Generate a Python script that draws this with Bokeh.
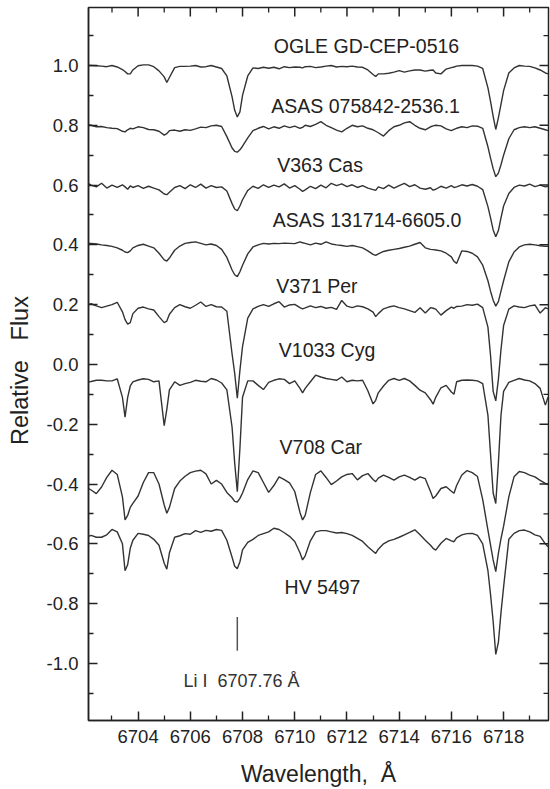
import math
from bokeh.plotting import figure
from bokeh.models import ColumnDataSource, FixedTicker, Range1d, PrintfTickFormatter, Label
from bokeh.embed import file_html
from bokeh.resources import INLINE
from bokeh.core.properties import value

# ---------------- data ----------------
wavelength = [
    6702.1, 6702.2, 6702.4, 6702.6, 6702.8, 6703.0, 6703.2, 6703.4, 6703.5, 6703.6, 6703.7, 6703.8,
    6704.0, 6704.2, 6704.4, 6704.6, 6704.8,
    6705.0, 6705.1, 6705.2, 6705.4, 6705.6, 6705.8,
    6706.0, 6706.2, 6706.4, 6706.6, 6706.8,
    6707.0, 6707.2, 6707.4, 6707.6, 6707.7, 6707.8, 6707.9,
    6708.0, 6708.2, 6708.4, 6708.6, 6708.8,
    6709.0, 6709.2, 6709.4, 6709.6, 6709.8,
    6710.0, 6710.2, 6710.3, 6710.4, 6710.6, 6710.8,
    6711.0, 6711.2, 6711.4, 6711.6, 6711.8,
    6712.0, 6712.2, 6712.4, 6712.6, 6712.8,
    6713.0, 6713.1, 6713.2, 6713.4, 6713.6, 6713.8,
    6714.0, 6714.2, 6714.4, 6714.6, 6714.8,
    6715.0, 6715.2, 6715.3, 6715.4, 6715.6, 6715.8,
    6716.0, 6716.1, 6716.2, 6716.4, 6716.6, 6716.8,
    6717.0, 6717.2, 6717.4, 6717.5, 6717.6, 6717.7, 6717.8, 6717.9,
    6718.0, 6718.2, 6718.4, 6718.6, 6718.8,
    6719.0, 6719.2, 6719.4, 6719.6, 6719.7,
]

flux_ogle_gd_cep_0516 = [
    1.000, 1.000, 0.999, 0.998, 0.996, 1.000, 0.995, 0.986, 0.980, 0.972, 0.972, 0.985,
    0.999, 1.002, 1.002, 0.996, 0.982,
    0.962, 0.943, 0.960, 0.993, 0.997, 0.997,
    0.998, 1.000, 0.995, 0.996, 1.000,
    0.995, 0.990, 0.965, 0.895, 0.850, 0.828, 0.845,
    0.900, 0.965, 0.992, 0.990, 0.994,
    0.991, 0.994, 0.989, 0.996, 0.993,
    0.995, 0.994, 0.992, 0.996, 0.997, 0.993,
    0.995, 0.998, 1.000, 0.995, 0.997,
    0.996, 0.998, 0.995, 0.994, 0.985,
    0.970, 0.963, 0.972, 0.972, 0.974, 0.978,
    0.983, 0.978, 0.982, 0.985, 0.985,
    0.981, 0.984, 0.985, 0.975, 0.972, 0.988,
    0.993, 0.995, 0.998, 1.000, 1.000, 1.000,
    0.998, 0.990, 0.925, 0.880, 0.830, 0.786, 0.825, 0.870,
    0.916, 0.975, 0.992, 1.000, 0.998,
    0.997, 0.992, 0.985, 0.975, 0.972,
]

flux_asas_075842 = [
    0.802, 0.800, 0.795, 0.796, 0.792, 0.790, 0.789, 0.780, 0.778, 0.785, 0.790, 0.788,
    0.795, 0.792, 0.786, 0.785, 0.780,
    0.767, 0.772, 0.782, 0.784, 0.780, 0.785,
    0.783, 0.788, 0.794, 0.792, 0.798,
    0.800, 0.796, 0.762, 0.724, 0.713, 0.710, 0.718,
    0.730, 0.758, 0.782, 0.790, 0.796,
    0.788, 0.795, 0.790, 0.798, 0.792,
    0.797, 0.790, 0.793, 0.800, 0.796, 0.803,
    0.812, 0.800, 0.792, 0.784, 0.778,
    0.790, 0.800, 0.795, 0.798, 0.790,
    0.785, 0.780, 0.775, 0.764, 0.782, 0.795,
    0.800, 0.808, 0.812, 0.800, 0.790,
    0.785, 0.795, 0.798, 0.800, 0.798, 0.788,
    0.782, 0.786, 0.790, 0.795, 0.792, 0.798,
    0.797, 0.790, 0.728, 0.690, 0.655, 0.628, 0.640, 0.668,
    0.700, 0.755, 0.785, 0.792, 0.795,
    0.792, 0.795, 0.790, 0.785, 0.782,
]

flux_v363_cas = [
    0.605, 0.600, 0.594, 0.606, 0.590, 0.600, 0.592, 0.601, 0.594, 0.586, 0.597, 0.592,
    0.598, 0.589, 0.596, 0.590, 0.584,
    0.570, 0.568, 0.576, 0.592, 0.598, 0.588,
    0.601, 0.592, 0.603, 0.590, 0.598,
    0.592, 0.594, 0.580, 0.538, 0.520, 0.514, 0.530,
    0.551, 0.582, 0.596, 0.589, 0.601,
    0.592, 0.600, 0.594, 0.604, 0.590,
    0.598, 0.586, 0.579, 0.584, 0.596, 0.588,
    0.600, 0.591, 0.606, 0.598, 0.604,
    0.595, 0.601, 0.592, 0.598, 0.590,
    0.585, 0.582, 0.594, 0.588, 0.600, 0.590,
    0.598, 0.606, 0.595, 0.601, 0.590,
    0.586, 0.591, 0.583, 0.586, 0.596, 0.590,
    0.598, 0.592, 0.594, 0.601, 0.597, 0.602,
    0.596, 0.585, 0.528, 0.490, 0.450, 0.427, 0.448, 0.490,
    0.530, 0.572, 0.592, 0.600, 0.597,
    0.603, 0.595, 0.600, 0.594, 0.596,
]

flux_asas_131714 = [
    0.405, 0.405, 0.403, 0.400, 0.398, 0.395, 0.390, 0.382, 0.376, 0.374, 0.380, 0.390,
    0.398, 0.402, 0.396, 0.390, 0.372,
    0.350, 0.346, 0.356, 0.382, 0.396, 0.405,
    0.408, 0.410, 0.405, 0.400, 0.403,
    0.398, 0.385, 0.358, 0.316, 0.300, 0.294, 0.310,
    0.332, 0.370, 0.393, 0.400, 0.405,
    0.403, 0.405, 0.404, 0.406, 0.405,
    0.404, 0.410, 0.407, 0.405, 0.400, 0.406,
    0.402, 0.410, 0.403, 0.400, 0.398,
    0.395, 0.398, 0.394, 0.390, 0.380,
    0.368, 0.365, 0.370, 0.378, 0.382, 0.385,
    0.388, 0.392, 0.396, 0.402, 0.408,
    0.390, 0.385, 0.384, 0.383, 0.380, 0.372,
    0.360, 0.345, 0.338, 0.380, 0.378, 0.372,
    0.360, 0.332, 0.280, 0.245, 0.215, 0.195, 0.210, 0.245,
    0.280, 0.343, 0.376, 0.393, 0.400,
    0.402, 0.400, 0.397, 0.395, 0.395,
]

flux_v371_per = [
    0.200, 0.203, 0.196, 0.190, 0.195, 0.200, 0.208, 0.176, 0.150, 0.135, 0.140, 0.170,
    0.188, 0.192, 0.186, 0.182, 0.160,
    0.140, 0.145, 0.168, 0.190, 0.200, 0.193,
    0.188, 0.198, 0.209, 0.194, 0.200,
    0.193, 0.192, 0.178, 0.035, -0.030, -0.113, -0.020,
    0.060, 0.155, 0.186, 0.194, 0.200,
    0.194, 0.203, 0.210, 0.192, 0.199,
    0.201, 0.190, 0.186, 0.189, 0.196, 0.190,
    0.194, 0.188, 0.191, 0.184, 0.214,
    0.195, 0.190, 0.196, 0.193, 0.186,
    0.175, 0.160, 0.170, 0.186, 0.192, 0.196,
    0.190, 0.186, 0.180, 0.174, 0.190,
    0.172, 0.190, 0.188, 0.185, 0.165, 0.180,
    0.192, 0.188, 0.194, 0.195, 0.200, 0.198,
    0.202, 0.190, 0.125, 0.030, -0.090, -0.122, -0.050, 0.050,
    0.130, 0.185, 0.196, 0.192, 0.190,
    0.196, 0.199, 0.172, 0.190, 0.186,
]

flux_v1033_cyg = [
    -0.058, -0.057, -0.053, -0.053, -0.055, -0.055, -0.048, -0.110, -0.176, -0.110, -0.072, -0.058,
    -0.052, -0.048, -0.050, -0.058, -0.055,
    -0.205, -0.150, -0.085, -0.058, -0.070, -0.064,
    -0.060, -0.053, -0.056, -0.058, -0.047,
    -0.052, -0.062, -0.085, -0.210, -0.330, -0.426, -0.280,
    -0.110, -0.055, -0.055, -0.070, -0.084,
    -0.060, -0.053, -0.048, -0.050, -0.064,
    -0.055, -0.080, -0.095, -0.080, -0.058, -0.036,
    -0.042, -0.047, -0.050, -0.053, -0.042,
    -0.058, -0.053, -0.055, -0.053, -0.088,
    -0.132, -0.120, -0.095, -0.072, -0.053, -0.047,
    -0.053, -0.047, -0.055, -0.070, -0.086,
    -0.095, -0.118, -0.133, -0.110, -0.078, -0.070,
    -0.092, -0.100, -0.058, -0.053, -0.052, -0.053,
    -0.055, -0.064, -0.170, -0.300, -0.430, -0.465, -0.330, -0.170,
    -0.090, -0.060, -0.053, -0.047, -0.052,
    -0.055, -0.064, -0.080, -0.136, -0.110,
]

flux_v708_car = [
    -0.415, -0.420, -0.432, -0.410, -0.378, -0.354, -0.368, -0.443, -0.520, -0.505, -0.478, -0.465,
    -0.440, -0.395, -0.362, -0.362, -0.400,
    -0.470, -0.498, -0.478, -0.415, -0.390, -0.374,
    -0.362, -0.357, -0.354, -0.366, -0.400,
    -0.388, -0.400, -0.428, -0.446, -0.458, -0.460, -0.448,
    -0.430, -0.385, -0.356, -0.362, -0.395,
    -0.428, -0.405, -0.376, -0.385, -0.396,
    -0.425, -0.495, -0.520, -0.505, -0.428, -0.368,
    -0.356, -0.378, -0.402, -0.390, -0.376,
    -0.368, -0.365, -0.386, -0.372, -0.365,
    -0.385, -0.392, -0.380, -0.370, -0.378, -0.387,
    -0.376, -0.370, -0.378, -0.387, -0.376,
    -0.382, -0.425, -0.448, -0.440, -0.415, -0.409,
    -0.424, -0.431, -0.405, -0.370, -0.355, -0.362,
    -0.375, -0.452, -0.554, -0.604, -0.654, -0.693, -0.632, -0.583,
    -0.541, -0.443, -0.376, -0.358, -0.362,
    -0.370, -0.376, -0.388, -0.398, -0.402,
]

flux_hv_5497 = [
    -0.575, -0.572, -0.578, -0.578, -0.570, -0.552, -0.560, -0.600, -0.690, -0.670, -0.615, -0.588,
    -0.565, -0.568, -0.572, -0.585, -0.605,
    -0.665, -0.685, -0.630, -0.578, -0.573, -0.566,
    -0.568, -0.556, -0.562, -0.555, -0.558,
    -0.552, -0.555, -0.588, -0.645, -0.675, -0.683, -0.660,
    -0.620, -0.595, -0.585, -0.572, -0.566,
    -0.560, -0.548, -0.552, -0.563, -0.575,
    -0.592, -0.630, -0.654, -0.640, -0.590, -0.560,
    -0.556, -0.556, -0.560, -0.564, -0.562,
    -0.566, -0.572, -0.582, -0.592, -0.610,
    -0.625, -0.632, -0.618, -0.600, -0.590, -0.585,
    -0.578, -0.570, -0.562, -0.553, -0.570,
    -0.588, -0.605, -0.615, -0.621, -0.598, -0.582,
    -0.590, -0.593, -0.580, -0.570, -0.566, -0.565,
    -0.572, -0.600, -0.690, -0.770, -0.860, -0.970, -0.930, -0.830,
    -0.745, -0.585, -0.565, -0.556, -0.554,
    -0.560, -0.570, -0.575, -0.600, -0.610,
]

stars = ["OGLE GD-CEP-0516", "ASAS 075842-2536.1", "V363 Cas", "ASAS 131714-6605.0",
         "V371 Per", "V1033 Cyg", "V708 Car", "HV 5497"]
series = [flux_ogle_gd_cep_0516, flux_asas_075842, flux_v363_cas, flux_asas_131714,
          flux_v371_per, flux_v1033_cyg, flux_v708_car, flux_hv_5497]

x_ticks = [6704, 6706, 6708, 6710, 6712, 6714, 6716, 6718]
x_minor = [6703, 6705, 6707, 6709, 6711, 6713, 6715, 6717, 6719]
y_ticks = [-1.0, -0.8, -0.6, -0.4, -0.2, 0.0, 0.2, 0.4, 0.6, 0.8, 1.0]
y_minor = [-1.1, -0.9, -0.7, -0.5, -0.3, -0.1, 0.1, 0.3, 0.5, 0.7, 0.9, 1.1]

li_line_wavelength = 6707.8
li_species = "Li I"
li_wavelength_text = "6707.76 \u00c5"

for s in series:
    assert len(s) == len(wavelength), len(s)

# ---------------- layout / style ----------------
X0, X1 = 6702.1, 6719.72
Y0, Y1 = -1.191, 1.194
label_x = [6709.20, 6709.10, 6709.33, 6709.16, 6709.29, 6709.39, 6709.42, 6709.61]
label_y = [1.064, 0.864, 0.666, 0.482, 0.261, 0.047, -0.277, -0.745]

FONT = "Liberation Sans"
INK = "#222222"
LINE = "#333333"

p = figure(width=550, height=789, output_backend="svg", toolbar_location=None,
           x_range=Range1d(X0, X1), y_range=Range1d(Y0, Y1),
           min_border_left=88, min_border_right=2, min_border_top=7, min_border_bottom=68)
p.xgrid.visible = False
p.ygrid.visible = False
p.outline_line_color = INK
p.outline_line_width = 1.5
p.background_fill_color = "white"
p.border_fill_color = "white"

for s in series:
    p.line(wavelength, s, line_color=LINE, line_width=1.4)

src = ColumnDataSource(dict(x=label_x, y=label_y, name=stars))
p.text(x="x", y="y", text="name", source=src, text_font=value(FONT),
       text_font_size=value("19.5px"), text_color=INK, text_align="left",
       text_baseline="alphabetic")

p.segment(x0=[li_line_wavelength], y0=[-0.845], x1=[li_line_wavelength], y1=[-0.958],
          line_color="#555555", line_width=1.5)
p.add_layout(Label(x=6705.74, y=-1.058, text=li_species, text_font=FONT,
                   text_font_size="18px", text_color="#333333", text_baseline="alphabetic"))
p.add_layout(Label(x=6707.04, y=-1.058, text=li_wavelength_text, text_font=FONT,
                   text_font_size="18px", text_color="#333333", text_baseline="alphabetic"))

# mirrored inward ticks on the top and right frame edges (no labels)
p.ray(x=[X1] * len(y_ticks), y=y_ticks, length=9, length_units="screen", angle=math.pi,
      line_color=INK, line_width=1.5)
p.ray(x=[X1] * len(y_minor), y=y_minor, length=5, length_units="screen", angle=math.pi,
      line_color=INK, line_width=1.3)
p.ray(x=x_ticks, y=[Y1] * len(x_ticks), length=9, length_units="screen", angle=-math.pi / 2,
      line_color=INK, line_width=1.5)
p.ray(x=x_minor, y=[Y1] * len(x_minor), length=5, length_units="screen", angle=-math.pi / 2,
      line_color=INK, line_width=1.3)


def style_axis(ax, ticks, minor):
    ax.ticker = FixedTicker(ticks=ticks, minor_ticks=minor)
    ax.major_tick_in = 9
    ax.major_tick_out = 0
    ax.minor_tick_in = 5
    ax.minor_tick_out = 0
    ax.axis_line_color = INK
    ax.axis_line_width = 1.5
    ax.major_tick_line_color = INK
    ax.major_tick_line_width = 1.5
    ax.minor_tick_line_color = INK
    ax.minor_tick_line_width = 1.3
    ax.major_label_text_font = FONT
    ax.major_label_text_color = INK
    ax.axis_label_text_font = FONT
    ax.axis_label_text_font_style = "normal"
    ax.axis_label_text_color = INK


xax = p.below[0]
style_axis(xax, x_ticks, x_minor)
xax.major_label_text_font_size = "18.5px"
xax.major_label_standoff = 9
xax.axis_label = "Wavelength,\u00a0\u00a0\u00c5"
xax.axis_label_text_font_size = "23px"
xax.axis_label_standoff = 15

yax = p.left[0]
style_axis(yax, y_ticks, y_minor)
yax.formatter = PrintfTickFormatter(format="%.1f")
yax.major_label_text_font_size = "18.5px"
yax.major_label_standoff = 10
yax.axis_label = "Relative\u00a0\u00a0\u00a0Flux\u00a0\u00a0"
yax.axis_label_text_font_size = "23.5px"
yax.axis_label_standoff = 11

open("out.html", "w").write(file_html(p, INLINE))
